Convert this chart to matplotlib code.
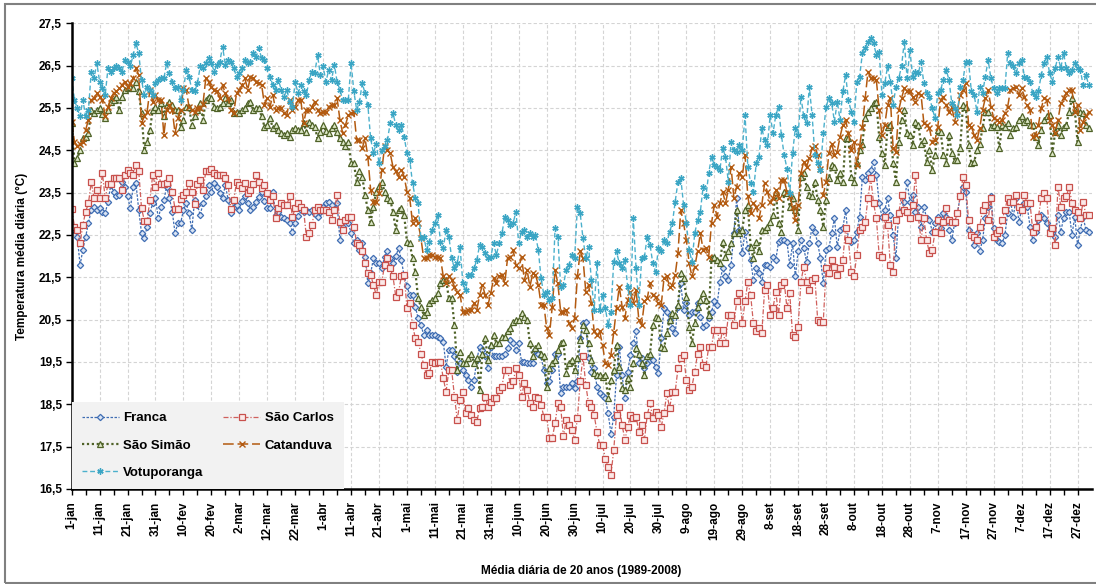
import numpy as np
import matplotlib
matplotlib.use('Agg')
import matplotlib.pyplot as plt
import matplotlib.transforms as mtransforms
from matplotlib.patches import Rectangle

# tick labels every 10 days (day index 0 = 1-jan)
tick_labels = ['1-jan', '11-jan', '21-jan', '31-jan', '10-fev', '20-fev', '2-mar', '12-mar',
               '22-mar', '1-abr', '11-abr', '21-abr', '1-mai', '11-mai', '21-mai', '31-mai',
               '10-jun', '20-jun', '30-jun', '10-jul', '20-jul', '30-jul', '9-ago', '19-ago',
               '29-ago', '8-set', '18-set', '28-set', '8-out', '18-out', '28-out', '7-nov',
               '17-nov', '27-nov', '7-dez', '17-dez', '27-dez']

# daily mean temperature (20 year average), one value per day of the year
franca = [
    22.70, 22.62, 22.46, 21.79, 22.15, 22.46, 22.78, 23.09, 23.17, 23.09,
    23.13, 23.05, 23.01, 23.29, 23.68, 23.52, 23.41, 23.44, 23.76, 23.64,
    23.41, 23.13, 23.64, 23.72, 23.09, 22.54, 22.42, 22.70, 23.01, 23.25,
    23.37, 22.89, 23.17, 23.33, 23.64, 23.37, 23.05, 22.54, 22.78, 22.78,
    23.09, 23.25, 23.01, 22.62, 23.33, 23.21, 22.97, 23.25, 23.41, 23.68,
    23.52, 23.72, 23.64, 23.48, 23.37, 23.68, 23.33, 23.01, 23.17, 23.21,
    23.09, 23.30, 23.41, 23.25, 23.10, 23.17, 23.29, 23.40, 23.52, 23.30,
    23.13, 23.13, 23.52, 22.97, 23.05, 22.93, 22.90, 22.85, 22.78, 22.58,
    22.78, 22.95, 23.09, 23.05, 23.09, 23.05, 23.09, 23.00, 22.93, 23.05,
    23.17, 23.26, 23.29, 23.20, 23.09, 23.25, 22.38, 22.70, 22.85, 22.78,
    22.55, 22.30, 22.38, 22.15, 22.30, 21.99, 21.36, 21.59, 21.95, 21.83,
    21.83, 21.71, 21.99, 22.11, 21.95, 21.83, 22.00, 22.19, 21.91, 21.52,
    21.30, 21.08, 21.08, 20.80, 20.53, 20.37, 20.14, 20.26, 20.14, 20.14,
    20.14, 20.10, 20.06, 19.98, 19.39, 19.78, 19.78, 19.63, 19.27, 19.47,
    19.31, 19.20, 19.07, 18.92, 19.07, 19.55, 19.86, 19.78, 19.63, 19.35,
    19.86, 19.63, 19.63, 19.63, 19.63, 19.70, 19.82, 20.02, 19.94, 19.78,
    19.94, 19.51, 19.51, 19.47, 19.47, 19.47, 19.78, 19.70, 19.63, 19.30,
    19.00, 19.04, 19.31, 19.70, 19.70, 18.76, 18.92, 18.92, 18.92, 19.00,
    18.88, 19.04, 20.06, 20.41, 20.45, 19.59, 19.27, 19.35, 18.92, 18.76,
    18.70, 18.64, 18.29, 17.81, 18.21, 19.19, 19.86, 19.19, 18.64, 19.27,
    19.66, 19.94, 20.22, 19.47, 19.59, 19.35, 19.47, 19.55, 19.55, 19.39,
    19.23, 20.06, 20.77, 20.69, 20.49, 20.30, 20.18, 20.81, 21.36, 20.73,
    20.89, 20.61, 20.69, 20.69, 20.89, 20.57, 20.33, 20.37, 20.55, 20.69,
    20.93, 20.85, 21.40, 21.71, 21.52, 21.44, 21.80, 22.54, 23.37, 22.62,
    22.07, 22.58, 22.20, 21.91, 21.44, 21.71, 21.59, 21.40, 21.79, 21.79,
    21.75, 21.99, 21.91, 22.34, 22.38, 22.38, 22.34, 21.79, 22.30, 21.52,
    22.11, 22.38, 22.19, 21.87, 22.30, 22.70, 22.58, 22.30, 21.95, 21.36,
    22.15, 22.19, 22.54, 22.89, 22.22, 22.62, 22.66, 23.09, 22.38, 22.34,
    22.38, 22.58, 22.93, 23.88, 23.80, 23.96, 24.04, 24.23, 23.92, 23.25,
    22.93, 23.09, 23.37, 22.97, 22.50, 21.95, 23.01, 23.09, 23.29, 23.76,
    23.29, 23.44, 23.05, 23.17, 22.70, 23.17, 22.89, 22.85, 22.58, 22.78,
    22.93, 22.66, 23.01, 22.93, 22.62, 22.38, 22.78, 23.01, 23.41, 23.64,
    23.52, 22.62, 22.50, 22.26, 22.54, 22.11, 22.38, 22.89, 23.17, 23.41,
    22.66, 22.38, 22.34, 22.30, 22.50, 23.01, 23.29, 22.93, 23.37, 22.81,
    23.09, 23.25, 23.17, 22.70, 22.38, 22.58, 22.85, 22.97, 22.89, 22.78,
    22.62, 22.54, 22.46, 22.97, 22.58, 22.89, 23.05, 23.05, 22.50, 22.93,
    22.26, 22.62, 22.93, 22.62, 22.58]

sao_carlos = [
    23.11, 22.70, 22.62, 22.30, 22.74, 23.05, 23.25, 23.75, 23.37, 23.56,
    23.37, 23.96, 23.37, 23.70, 23.70, 23.84, 23.84, 23.84, 23.56, 23.92,
    24.04, 23.96, 23.92, 24.15, 24.00, 23.13, 22.84, 22.84, 23.33, 23.92,
    23.64, 23.96, 23.70, 23.70, 23.72, 23.84, 23.52, 23.11, 23.11, 23.34,
    23.44, 23.52, 23.72, 23.52, 23.22, 23.70, 23.80, 23.56, 24.00, 24.00,
    24.05, 23.96, 23.92, 23.92, 23.92, 23.84, 23.68, 23.11, 23.33, 23.75,
    23.68, 23.60, 23.72, 23.48, 23.56, 23.70, 23.92, 23.76, 23.60, 23.68,
    23.50, 23.33, 23.41, 22.89, 23.13, 23.25, 23.21, 23.21, 23.41, 22.93,
    23.13, 23.25, 23.17, 23.09, 22.46, 22.54, 22.74, 23.09, 23.17, 23.09,
    23.09, 23.09, 23.05, 22.85, 23.09, 23.44, 22.80, 22.62, 22.85, 22.93,
    22.93, 22.70, 22.30, 22.26, 22.11, 21.83, 21.59, 21.56, 21.32, 21.08,
    21.40, 21.40, 21.79, 21.95, 21.71, 21.52, 21.04, 21.16, 21.52, 21.56,
    20.77, 20.89, 20.37, 20.06, 19.98, 19.70, 19.43, 19.19, 19.23, 19.51,
    19.47, 19.50, 19.51, 19.11, 18.80, 19.31, 19.31, 18.68, 18.13, 18.60,
    18.80, 18.29, 18.41, 18.25, 18.13, 18.09, 18.41, 18.44, 18.68, 18.44,
    18.56, 18.64, 18.64, 18.84, 18.92, 19.31, 19.31, 18.96, 19.04, 19.35,
    19.20, 18.68, 19.00, 18.84, 18.52, 18.44, 18.68, 18.64, 18.48, 18.21,
    18.21, 17.70, 17.70, 18.05, 18.52, 18.44, 17.74, 18.13, 18.01, 17.89,
    17.66, 18.17, 19.04, 19.63, 18.96, 18.52, 18.44, 18.25, 17.85, 17.54,
    17.54, 17.22, 17.03, 16.83, 17.42, 18.25, 18.44, 18.01, 17.66, 17.97,
    18.25, 18.17, 18.21, 17.85, 18.01, 17.66, 18.25, 18.52, 18.17, 18.33,
    18.25, 17.97, 18.29, 18.76, 18.41, 18.80, 18.80, 19.35, 19.59, 19.67,
    19.07, 18.84, 18.92, 19.27, 19.70, 19.86, 19.43, 19.39, 19.86, 19.86,
    20.26, 20.26, 19.94, 20.26, 19.94, 20.61, 20.61, 20.37, 20.93, 21.12,
    20.41, 20.93, 21.40, 21.08, 20.41, 20.22, 20.30, 20.18, 21.20, 21.32,
    20.61, 20.77, 21.16, 20.61, 21.32, 21.40, 20.77, 21.12, 20.14, 20.10,
    20.33, 21.40, 21.75, 21.40, 21.20, 21.44, 21.48, 20.49, 20.45, 20.45,
    21.71, 21.59, 21.91, 21.75, 21.56, 21.71, 21.91, 22.66, 22.38, 21.63,
    21.52, 22.03, 22.62, 22.70, 22.81, 23.37, 23.84, 23.25, 22.89, 22.03,
    21.99, 22.93, 22.74, 21.79, 21.63, 22.85, 23.01, 23.44, 23.09, 23.05,
    22.89, 23.21, 23.92, 22.93, 22.38, 22.89, 22.38, 22.07, 22.15, 22.58,
    22.85, 22.54, 22.81, 23.13, 22.85, 22.81, 22.81, 23.01, 23.41, 23.88,
    23.68, 22.85, 22.50, 22.46, 22.38, 22.70, 23.09, 23.21, 22.85, 23.37,
    22.46, 22.54, 22.62, 22.85, 23.09, 23.37, 23.29, 23.29, 23.44, 23.17,
    23.09, 23.44, 23.25, 23.25, 22.58, 22.70, 22.93, 23.37, 23.48, 23.37,
    22.54, 22.66, 22.26, 23.64, 23.17, 23.37, 23.41, 23.64, 23.25, 23.09,
    23.05, 22.89, 23.29, 22.97, 22.97]

sao_simao = [
    25.14, 24.19, 24.31, 24.50, 24.78, 24.82, 24.90, 25.45, 25.37, 25.45,
    25.49, 25.35, 25.26, 25.45, 25.65, 25.69, 25.77, 25.45, 25.77, 25.93,
    25.96, 26.00, 25.96, 26.12, 25.89, 25.37, 24.50, 24.70, 24.98, 25.45,
    25.53, 25.45, 25.61, 25.30, 25.57, 25.65, 25.57, 25.45, 25.45, 25.06,
    25.22, 25.53, 25.53, 25.10, 25.30, 25.45, 25.61, 25.22, 25.69, 25.77,
    25.73, 25.53, 25.49, 25.53, 25.61, 25.73, 25.61, 25.69, 25.37, 25.41,
    25.37, 25.45, 25.49, 25.61, 25.65, 25.45, 25.49, 25.49, 25.30, 25.06,
    25.10, 25.26, 25.02, 25.10, 24.98, 24.92, 24.86, 24.90, 24.82, 24.98,
    25.02, 24.98, 24.98, 25.14, 24.94, 25.18, 25.10, 25.06, 24.78, 24.94,
    25.10, 24.95, 24.90, 25.02, 25.10, 24.94, 24.78, 24.70, 24.59, 24.70,
    24.19, 24.19, 23.76, 24.00, 23.88, 23.44, 23.09, 22.81, 23.17, 23.52,
    23.65, 23.76, 23.52, 23.37, 23.33, 23.05, 22.62, 23.09, 23.13, 22.97,
    22.34, 22.30, 21.95, 21.63, 21.00, 20.80, 20.61, 20.69, 20.89, 20.96,
    21.00, 21.12, 21.36, 21.44, 21.44, 21.00, 21.00, 20.37, 19.31, 19.74,
    19.47, 19.47, 19.60, 19.70, 19.47, 19.59, 18.84, 19.70, 20.06, 19.55,
    19.90, 20.14, 19.94, 19.94, 20.10, 20.10, 20.22, 20.30, 20.45, 20.49,
    20.49, 20.65, 20.57, 20.49, 19.94, 19.63, 19.82, 19.90, 19.70, 19.63,
    18.92, 19.35, 19.47, 19.55, 19.78, 19.94, 19.98, 19.23, 19.47, 19.55,
    19.31, 19.60, 20.02, 20.37, 20.26, 19.94, 19.55, 19.23, 19.19, 19.19,
    19.15, 19.19, 18.64, 19.07, 19.31, 19.90, 19.39, 18.88, 18.84, 19.11,
    18.92, 19.47, 19.82, 19.70, 19.47, 19.19, 19.63, 19.70, 20.37, 20.57,
    20.53, 19.86, 19.82, 20.18, 20.49, 20.65, 20.61, 20.85, 21.59, 21.48,
    21.04, 20.33, 19.94, 20.41, 20.81, 20.96, 21.12, 20.96, 20.61, 21.95,
    21.99, 21.91, 21.83, 22.34, 21.99, 22.11, 22.30, 22.54, 23.09, 22.54,
    22.62, 23.09, 23.21, 22.22, 21.95, 22.34, 22.11, 22.62, 22.62, 22.70,
    22.81, 22.97, 23.52, 22.78, 22.58, 23.52, 23.48, 23.17, 23.37, 23.09,
    22.62, 23.88, 23.96, 23.64, 23.44, 23.41, 23.76, 23.33, 23.09, 22.70,
    23.33, 23.84, 24.15, 24.11, 23.80, 23.96, 23.76, 24.78, 24.78, 23.88,
    23.76, 24.19, 24.50, 24.66, 25.26, 25.41, 25.50, 25.61, 25.65, 24.82,
    24.43, 24.15, 25.06, 25.10, 24.19, 23.76, 24.70, 25.22, 25.45, 24.90,
    24.86, 24.63, 25.18, 25.10, 24.66, 24.74, 24.23, 24.50, 24.04, 24.39,
    24.98, 24.94, 24.39, 24.19, 24.86, 24.43, 24.27, 24.27, 24.55, 25.57,
    25.53, 24.63, 24.19, 24.23, 24.50, 24.66, 25.02, 25.41, 25.41, 25.06,
    25.10, 25.06, 24.55, 25.10, 25.06, 25.14, 24.86, 25.02, 25.06, 25.22,
    25.30, 25.18, 25.22, 25.10, 25.10, 24.82, 24.63, 24.98, 25.22, 25.30,
    25.33, 24.43, 24.94, 25.10, 24.86, 25.06, 25.10, 25.41, 25.73, 25.45,
    24.70, 25.41, 25.37, 25.10, 25.02]

catanduva = [
    25.18, 24.70, 24.59, 24.66, 24.70, 24.98, 25.22, 25.69, 25.73, 25.85,
    25.77, 25.69, 25.30, 25.53, 25.73, 25.85, 25.89, 25.96, 26.04, 26.12,
    26.00, 26.08, 26.20, 26.44, 26.28, 25.14, 25.30, 25.41, 25.93, 25.65,
    25.81, 25.69, 25.69, 24.86, 25.45, 25.57, 25.45, 24.90, 25.26, 25.45,
    25.96, 25.93, 25.53, 25.45, 25.41, 25.49, 25.49, 25.60, 26.20, 26.12,
    26.00, 25.93, 25.89, 25.73, 26.04, 25.85, 25.73, 25.45, 25.37, 25.85,
    25.93, 26.04, 26.20, 25.93, 26.24, 26.20, 26.12, 26.08, 26.04, 25.57,
    25.73, 25.53, 25.81, 25.45, 25.49, 25.49, 25.37, 25.33, 25.69, 25.45,
    25.53, 25.69, 25.69, 25.14, 25.45, 25.45, 25.53, 25.65, 25.45, 25.37,
    25.41, 25.41, 25.53, 25.57, 25.57, 25.73, 25.22, 24.90, 25.10, 25.33,
    25.37, 25.41, 24.74, 24.74, 24.55, 24.78, 24.35, 23.56, 23.29, 23.29,
    23.48, 24.04, 24.59, 24.50, 24.43, 24.11, 24.00, 23.88, 24.04, 23.88,
    23.52, 23.37, 22.78, 22.90, 22.78, 22.42, 21.95, 21.95, 22.03, 22.03,
    21.99, 21.99, 21.95, 21.52, 21.36, 21.52, 21.44, 21.28, 21.16, 21.08,
    20.69, 20.69, 20.73, 20.73, 20.89, 20.73, 21.08, 21.32, 21.08, 20.85,
    21.12, 21.48, 21.36, 21.52, 21.56, 21.36, 21.95, 21.99, 22.15, 21.79,
    21.71, 21.99, 21.44, 21.67, 21.28, 21.59, 21.56, 21.32, 20.85, 20.85,
    20.30, 20.14, 20.81, 21.67, 21.36, 20.69, 20.69, 20.73, 20.41, 20.30,
    20.53, 21.52, 22.11, 21.95, 21.16, 21.32, 20.89, 20.22, 20.14, 20.22,
    19.90, 19.47, 19.43, 19.67, 20.20, 20.77, 21.28, 20.81, 20.53, 20.96,
    21.16, 20.89, 21.20, 20.49, 20.37, 20.93, 21.00, 21.36, 21.08, 21.04,
    20.89, 20.85, 21.48, 21.52, 21.28, 21.32, 21.56, 22.07, 23.09, 22.78,
    22.38, 21.83, 21.52, 21.75, 22.11, 22.54, 22.15, 22.19, 21.99, 22.78,
    23.21, 22.93, 23.25, 23.52, 23.25, 23.56, 24.11, 23.37, 23.64, 23.96,
    23.88, 24.39, 23.41, 23.01, 23.25, 23.17, 22.89, 23.21, 23.72, 23.52,
    23.29, 23.37, 23.56, 23.37, 23.80, 23.80, 23.52, 23.41, 23.17, 22.85,
    23.21, 23.96, 24.23, 24.11, 24.31, 24.55, 24.59, 24.39, 24.07, 23.44,
    23.76, 24.43, 24.66, 24.39, 24.47, 24.82, 25.10, 25.22, 24.90, 24.50,
    24.70, 24.15, 24.59, 25.06, 25.73, 26.36, 26.20, 26.20, 26.16, 25.45,
    24.86, 25.10, 25.57, 25.73, 24.55, 24.47, 25.45, 25.73, 25.96, 25.89,
    25.89, 25.77, 25.65, 25.85, 25.81, 25.14, 25.10, 25.02, 24.70, 24.74,
    25.06, 25.69, 25.77, 25.57, 25.41, 25.53, 25.18, 25.45, 25.81, 25.93,
    26.08, 25.10, 25.06, 24.86, 24.74, 25.02, 25.45, 25.73, 25.93, 25.53,
    25.26, 25.22, 25.18, 25.22, 25.37, 25.53, 25.93, 25.96, 26.00, 25.81,
    25.96, 25.77, 25.57, 25.45, 24.82, 24.86, 25.10, 25.49, 25.73, 25.69,
    25.22, 25.10, 24.90, 25.22, 25.61, 25.73, 25.85, 25.93, 25.93, 25.41,
    25.57, 24.98, 25.18, 25.30, 25.41]

votuporanga = [
    26.20, 25.69, 25.49, 25.30, 25.69, 25.30, 25.45, 26.36, 26.20, 26.56,
    26.12, 25.96, 25.81, 26.44, 26.36, 26.44, 26.48, 26.44, 26.36, 26.63,
    26.59, 26.48, 26.75, 27.03, 26.79, 26.16, 25.81, 26.00, 25.93, 25.81,
    26.08, 26.16, 26.20, 26.20, 26.56, 26.32, 26.12, 25.96, 26.00, 25.69,
    25.93, 26.40, 26.24, 25.93, 25.89, 26.08, 26.48, 26.44, 26.56, 26.67,
    26.56, 26.36, 26.52, 26.59, 26.95, 26.52, 26.63, 26.59, 26.44, 26.24,
    26.32, 26.44, 26.63, 26.56, 26.59, 26.79, 26.71, 26.91, 26.67, 26.63,
    26.44, 26.24, 26.04, 25.93, 26.16, 25.93, 25.77, 25.93, 25.65, 25.53,
    26.12, 25.85, 26.04, 25.89, 25.81, 26.16, 26.36, 26.32, 26.75, 26.28,
    26.48, 26.12, 26.40, 26.16, 26.52, 26.12, 25.93, 25.69, 25.69, 25.69,
    26.56, 25.89, 25.45, 25.65, 26.08, 25.85, 25.57, 24.78, 24.43, 24.66,
    24.19, 24.50, 24.59, 24.74, 25.14, 25.37, 25.10, 24.98, 25.10, 24.82,
    24.43, 24.27, 23.72, 23.37, 23.25, 22.42, 22.46, 22.15, 22.34, 22.62,
    22.78, 22.97, 22.34, 22.19, 22.62, 22.46, 21.95, 21.71, 21.83, 22.22,
    21.36, 21.20, 21.56, 21.56, 21.71, 21.91, 22.26, 22.22, 22.07, 21.95,
    21.99, 22.30, 22.03, 22.30, 22.54, 22.93, 22.85, 22.74, 22.78, 23.05,
    22.30, 22.58, 22.62, 22.46, 22.54, 22.46, 22.50, 22.15, 21.48, 21.08,
    21.16, 20.96, 21.00, 22.66, 22.46, 21.28, 21.32, 21.67, 21.79, 22.03,
    21.95, 23.17, 23.01, 22.42, 21.95, 22.22, 21.44, 20.73, 21.83, 20.73,
    21.08, 20.77, 20.37, 20.69, 21.87, 22.11, 21.83, 21.71, 21.91, 21.28,
    20.85, 22.89, 21.71, 20.85, 21.95, 21.99, 22.46, 22.26, 21.83, 21.63,
    22.19, 22.11, 22.38, 22.30, 22.58, 22.78, 23.29, 23.76, 23.84, 23.21,
    22.78, 22.15, 21.87, 22.54, 22.85, 23.05, 23.64, 23.41, 23.96, 24.35,
    24.15, 24.11, 24.04, 24.55, 24.35, 23.76, 24.70, 24.50, 24.47, 24.63,
    24.50, 25.33, 24.11, 23.72, 23.52, 24.19, 24.35, 25.02, 24.74, 24.63,
    25.33, 24.90, 25.33, 25.53, 24.86, 24.39, 24.07, 23.48, 24.43, 25.02,
    24.86, 25.77, 25.30, 25.14, 26.00, 25.33, 24.39, 24.19, 24.04, 24.90,
    25.53, 25.73, 25.61, 25.18, 25.65, 25.22, 25.89, 26.28, 25.69, 25.41,
    25.18, 26.12, 26.24, 26.79, 26.91, 27.07, 27.15, 27.03, 26.75, 26.83,
    25.81, 26.08, 26.48, 26.12, 25.57, 26.00, 26.20, 26.48, 27.07, 26.20,
    26.87, 26.24, 26.36, 26.32, 26.59, 26.08, 25.85, 25.77, 25.49, 25.26,
    25.85, 25.93, 26.16, 26.40, 26.16, 25.61, 25.49, 25.33, 26.00, 26.16,
    26.59, 26.59, 25.89, 25.81, 25.41, 26.00, 25.85, 26.24, 26.63, 26.20,
    25.96, 25.85, 25.96, 25.96, 25.96, 26.79, 26.56, 26.48, 26.32, 26.56,
    26.63, 26.24, 26.20, 26.12, 25.85, 25.77, 25.89, 26.28, 26.56, 26.71,
    26.32, 26.12, 26.44, 26.71, 26.44, 26.79, 26.44, 26.32, 26.40, 26.56,
    26.44, 26.40, 26.04, 26.28, 26.04]

plt.rcParams['font.family'] = ['Liberation Sans', 'DejaVu Sans']
plt.rcParams['font.weight'] = 'bold'

fig = plt.figure(figsize=(10.96, 5.84), dpi=100)
ax = fig.add_axes([0.0654, 0.1627, 0.9305, 0.7974])

series = [
    ('Franca', franca, dict(color='#3f6db3', ls=(0, (2.0, 1.2)), lw=0.9, marker='D', ms=3.2,
                            mfc='#dbe5f3', mec='#3f6db3', mew=0.9)),
    ('São Carlos', sao_carlos, dict(color='#d0605c', ls=(0, (4, 1.5, 1, 1.5)), lw=0.9, marker='s', ms=4.0,
                                    mfc='#fbe9e8', mec='#c8504c', mew=0.9)),
    ('São Simão', sao_simao, dict(color='#4f6228', ls=(0, (1, 1.2)), lw=1.6, marker='^', ms=4.0,
                                  mfc='#dde8c8', mec='#4f6228', mew=0.9)),
    ('Catanduva', catanduva, dict(color='#b35a10', ls=(0, (7, 2.5)), lw=1.1, marker='x', ms=3.8,
                                  mec='#b35a10', mew=1.0)),
    ('Votuporanga', votuporanga, dict(color='#4bb0cc', ls=(0, (3.5, 2.0)), lw=1.0, marker=(6, 2, 0), ms=4.5,
                                      mec='#3aa5c4', mew=1.0)),
]

handles = {}
for name, vals, style in series:
    x = np.arange(len(vals))
    h, = ax.plot(x, vals, label=name, **style)
    handles[name] = h

ax.set_xlim(0, 365)
ax.set_ylim(16.5, 27.5)

yt = np.arange(16.5, 27.51, 1.0)
ax.set_yticks(yt)
ax.set_yticklabels([f'{v:.1f}'.replace('.', ',') for v in yt], fontsize=8.5, fontweight='bold')

ax.set_xticks(np.arange(0, 361, 10))
ax.set_xticklabels(tick_labels, rotation=90, fontsize=8.5, fontweight='bold')
ax.set_xticks(np.arange(5, 365, 10), minor=True)
offset = mtransforms.ScaledTranslation(0.045, 0, fig.dpi_scale_trans)
for lab in ax.get_xticklabels():
    lab.set_transform(lab.get_transform() + offset)

ax.tick_params(axis='both', which='both', direction='out', length=4, width=1, color='black', pad=3)
ax.tick_params(axis='x', which='major', pad=5)

ax.grid(True, which='major', axis='both', color='#d4d4d4', ls=(0, (3, 2)), lw=0.8)
ax.set_axisbelow(True)

for s in ['top', 'right']:
    ax.spines[s].set_visible(False)
for s in ['left', 'bottom']:
    ax.spines[s].set_linewidth(1.8)
    ax.spines[s].set_color('black')

ax.set_ylabel('Temperatura média diária (°C)', fontsize=8.5, fontweight='bold', labelpad=8)
ax.set_xlabel('Média diária de 20 anos (1989-2008)', fontsize=8.5, fontweight='bold', labelpad=18)

order = ['Franca', 'São Simão', 'Votuporanga', 'São Carlos', 'Catanduva']
leg = ax.legend([handles[n] for n in order], order, loc='lower left', bbox_to_anchor=(0.0, 0.0),
                ncol=2, frameon=True, fancybox=False, borderaxespad=0.0, handlelength=2.8,
                handletextpad=0.35, columnspacing=1.5, labelspacing=1.15, borderpad=0.75,
                prop={'weight': 'bold', 'size': 9.5})
leg.get_frame().set_facecolor('#f2f2f2')
leg.get_frame().set_edgecolor('none')
leg.get_frame().set_alpha(1.0)

fig.patches.append(Rectangle((0.005, 0.0017), 1.2, 0.9906, transform=fig.transFigure,
                             fill=False, edgecolor='#808080', lw=1.5))

fig.savefig('out.png', dpi=100)
